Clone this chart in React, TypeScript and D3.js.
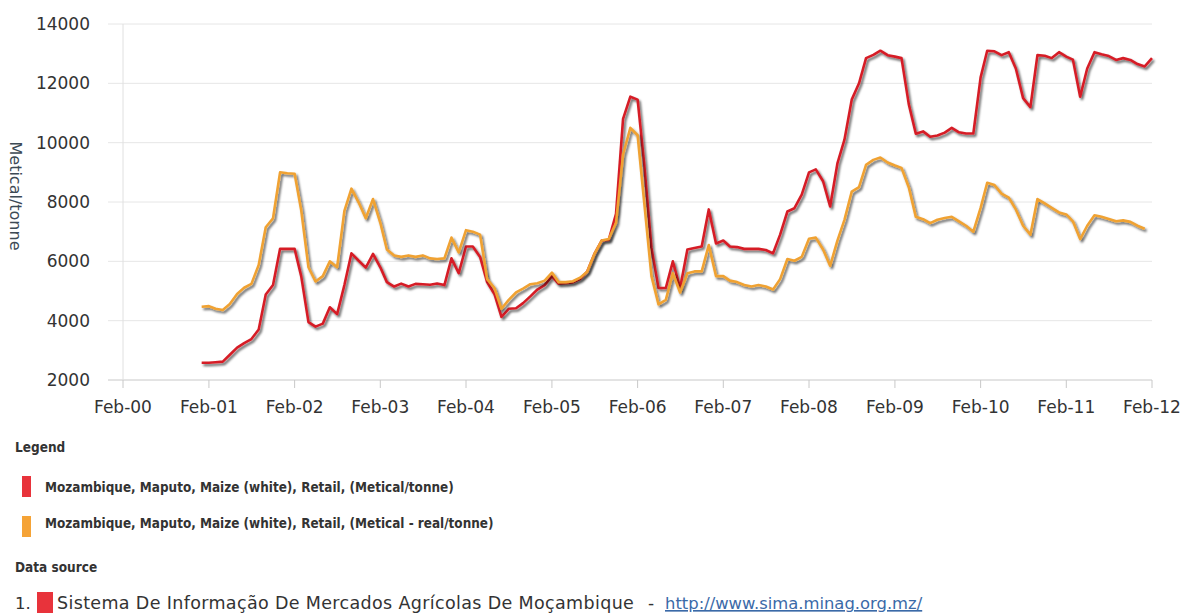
import React from "react";
import * as d3 from "d3";

// ---- data ----
const firstMonth = "2001-01-01"; // first observation (monthly series)
const nominalPrices = [
  2580, 2580, 2600, 2620, 2850, 3090, 3240, 3380, 3700, 4880, 5200, 6420,
  6420, 6420, 5500, 3950, 3800, 3900, 4450, 4220, 5200, 6270, 6020, 5790,
  6250, 5800, 5300, 5150, 5250, 5150, 5240, 5230, 5210, 5250, 5200, 6100,
  5600, 6500, 6500, 6150, 5300, 4900, 4130, 4400, 4420, 4590, 4820, 5050,
  5200, 5500, 5250, 5260, 5290, 5400, 5650, 6250, 6700, 6720, 7600, 10800,
  11550, 11450, 9300, 6450, 5100, 5100, 6000, 5100, 6400, 6450, 6500, 7750,
  6600, 6700, 6500, 6480, 6420, 6420, 6420, 6380, 6270, 6900, 7680, 7790,
  8250, 9000, 9100, 8700, 7850, 9300, 10100, 11450, 12000, 12850, 12960, 13100,
  12950, 12900, 12850, 11300, 10300, 10380, 10200, 10240, 10340, 10500, 10350, 10310,
  10310, 12200, 13100, 13080, 12950, 13050, 12500, 11500, 11200, 12950, 12930, 12850,
  13050, 12900, 12800, 11550, 12500, 13050, 12980, 12920, 12790, 12850, 12790, 12650,
  12570, 12850,
];
const realPrices = [
  4470, 4490, 4400, 4360, 4560, 4900, 5110, 5240, 5880, 7150, 7450, 9000,
  8970, 8950, 7730, 5800, 5320, 5500, 6000, 5800, 7700, 8450, 7980, 7450,
  8100, 7300, 6400, 6200, 6150, 6200, 6150, 6200, 6100, 6080, 6100, 6800,
  6300, 7050, 7000, 6900, 5400, 5100, 4400, 4700, 4950, 5080, 5230, 5260,
  5350, 5620, 5300, 5300, 5330, 5450, 5650, 6250, 6700, 6750, 7300, 9600,
  10500, 10250, 8000, 5500, 4550, 4700, 5600, 4950, 5600, 5660, 5660, 6550,
  5500, 5500, 5350, 5300, 5200, 5150, 5200, 5150, 5050, 5400, 6080, 6020,
  6150, 6760, 6800, 6400, 5850, 6700, 7400, 8350, 8500, 9250, 9420, 9500,
  9330, 9230, 9150, 8500, 7500, 7420, 7290, 7400, 7460, 7500, 7350, 7200,
  7000, 7800, 8650, 8570, 8280, 8150, 7750, 7200, 6900, 8100, 7950, 7800,
  7650, 7580, 7350, 6750, 7200, 7550, 7500, 7430, 7350, 7380, 7330, 7200,
  7100,
];
const yTicks = [2000, 4000, 6000, 8000, 10000, 12000, 14000];
const xDomain = ["2000-02-01", "2012-02-01"];
const yAxisTitle = "Metical/tonne";
const legendTitle = "Legend";
const seriesNames = [
  "Mozambique, Maputo, Maize (white), Retail, (Metical/tonne)",
  "Mozambique, Maputo, Maize (white), Retail, (Metical - real/tonne)",
];
const sourceTitle = "Data source";
const sourceName = "Sistema De Informação De Mercados Agrícolas De Moçambique";
const sourceUrl = "http://www.sima.minag.org.mz/";

const RED = "#d61f27";
const ORANGE = "#f0a233";
const RED_LEG = "#e8333b";
const ORANGE_LEG = "#f5a336";

export default function App() {
  const W = 1181, H = 616;
  const x = d3.scaleTime()
    .domain(xDomain.map((s) => new Date(s + "T00:00:00")))
    .range([123, 1152]);
  const y = d3.scaleLinear().domain([2000, 14000]).range([380, 24]);
  const start = new Date(firstMonth + "T00:00:00");
  const toPts = (vals: number[]) =>
    vals.map((v, i) => ({ d: d3.timeMonth.offset(start, i), v }));
  const line = d3.line<{ d: Date; v: number }>()
    .x((p) => x(p.d))
    .y((p) => y(p.v));
  const xTicks = d3.timeYear.range(new Date(2000, 0, 1), new Date(2013, 0, 1))
    .map((d) => new Date(d.getFullYear(), 1, 1));
  const fmt = d3.timeFormat("%b-%y");
  const axisFont = "Verdana, 'DejaVu Sans', sans-serif";
  const legFont = "Tahoma, 'DejaVu Sans Condensed', 'DejaVu Sans', sans-serif";
  const series = [
    { vals: nominalPrices, color: RED },
    { vals: realPrices, color: ORANGE },
  ];
  return (
    <svg width={W} height={H} style={{ position: "absolute", left: 0, top: 0, background: "#fff" }}>
      <defs>
        <filter id="sh" x="-5%" y="-5%" width="110%" height="120%">
          <feDropShadow dx="1.8" dy="2.2" stdDeviation="1.1" floodColor="#000" floodOpacity="0.6" />
        </filter>
      </defs>
      {/* grid */}
      {yTicks.map((t) => (
        <line key={t} x1={108} x2={1152} y1={y(t)} y2={y(t)}
          stroke={t === 2000 ? "#c8c8c8" : "#e6e6e6"} strokeWidth={1} />
      ))}
      <line x1={123} x2={123} y1={y(14000)} y2={y(2000)} stroke="#e0e0e0" strokeWidth={1} />
      {xTicks.map((t, i) => (
        <g key={i}>
          <line x1={x(t)} x2={x(t)} y1={380} y2={388} stroke="#c8c8c8" />
          <text x={x(t)} y={413} textAnchor="middle" fontFamily={axisFont}
            fontSize={17} fill="#333">{fmt(t)}</text>
        </g>
      ))}
      {yTicks.map((t) => (
        <text key={t} x={90} y={y(t) + 6} textAnchor="end" fontFamily={axisFont}
          fontSize={17} fill="#333">{t}</text>
      ))}
      <text transform={`translate(10,196) rotate(90)`} textAnchor="middle"
        fontFamily={axisFont} fontSize={16} fill="#3d4a55">{yAxisTitle}</text>
      {/* lines */}
      {series.map((s, i) => (
        <path key={i} d={line(toPts(s.vals)) || ""} fill="none" stroke={s.color}
          strokeWidth={2.6} strokeLinejoin="round" filter="url(#sh)" />
      ))}
      {/* legend */}
      <text x={15} y={452} fontFamily={legFont} fontWeight="bold" fontSize={13.5} fill="#333">{legendTitle}</text>
      <rect x={22} y={476} width={9} height={21} fill={RED_LEG} />
      <text x={45} y={492} fontFamily={legFont} fontWeight="bold" fontSize={13.4} fill="#333">{seriesNames[0]}</text>
      <rect x={22} y={516} width={9} height={21} fill={ORANGE_LEG} />
      <text x={45} y={528} fontFamily={legFont} fontWeight="bold" fontSize={13.4} fill="#333">{seriesNames[1]}</text>
      <text x={15} y={572} fontFamily={legFont} fontWeight="bold" fontSize={13.5} fill="#333">{sourceTitle}</text>
      <text x={15} y={609} fontFamily={axisFont} fontSize={16.5} fill="#333">1.</text>
      <rect x={37} y={592} width={16} height={21} fill={RED_LEG} />
      <text x={57} y={609} fontFamily={axisFont} fontSize={17.5} letterSpacing={0.35} fill="#333">{sourceName}</text>
      <text x={648} y={609} fontFamily={axisFont} fontSize={17} fill="#333">-</text>
      <text x={665} y={609} fontFamily={axisFont} fontSize={16.4} fill="#3b6aa8" textDecoration="underline">{sourceUrl}</text>
    </svg>
  );
}
